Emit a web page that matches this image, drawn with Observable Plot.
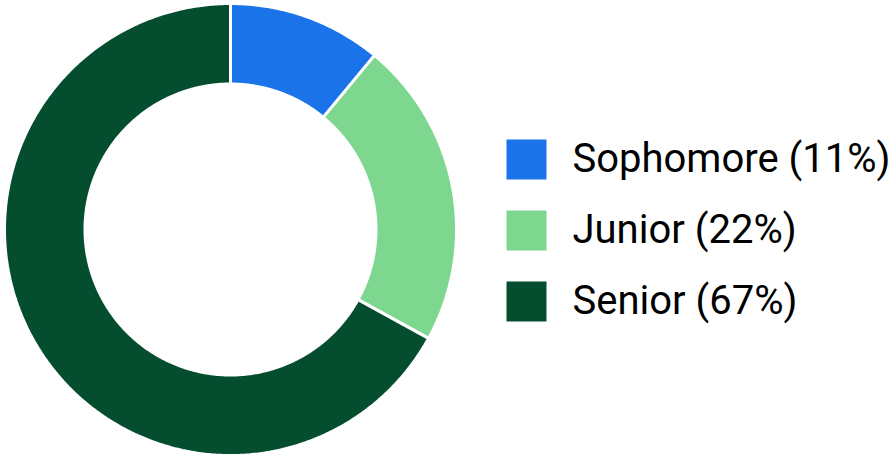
<!DOCTYPE html>
<html>
<head>
<meta charset="utf-8">
<script src="https://cdn.jsdelivr.net/npm/d3@7"></script>
<script src="https://cdn.jsdelivr.net/npm/@observablehq/plot@0.6"></script>
<style>
  html, body { margin: 0; padding: 0; background: #fff; }
  #wrap { display: flex; flex-direction: row; width: 891px; height: 460px; }
  svg { font-family: Roboto, sans-serif; }
</style>
</head>
<body>
<div id="wrap"></div>
<script>
const categories = ["Sophomore", "Junior", "Senior"];
const percents = [11, 22, 67];
const colors = ["#1a73e8", "#7ed78f", "#054d2f"];
const legendLabels = ["Sophomore (11%)", "Junior (22%)", "Senior (67%)"];

const outerR = 1;
const innerR = 147 / 224.5;
const strokeW = 3;
const pxR = 224.5;
const pad = strokeW / 2 / pxR;

// slice angles from the data
const pie = d3.pie().sort(null).value(d => d.value)(
  categories.map((c, i) => ({category: c, value: percents[i]}))
);

// polygon outline for each slice (geometry only)
const pts = [];
pie.forEach(p => {
  const a0 = p.startAngle, a1 = p.endAngle;
  const n = Math.max(4, Math.ceil((a1 - a0) / (Math.PI / 360)));
  const ro = outerR + pad, ri = innerR - pad;
  for (let k = 0; k <= n; k++) {
    const a = a0 + (a1 - a0) * k / n;
    pts.push({category: p.data.category, x: ro * Math.sin(a), y: ro * Math.cos(a)});
  }
  for (let k = n; k >= 0; k--) {
    const a = a0 + (a1 - a0) * k / n;
    pts.push({category: p.data.category, x: ri * Math.sin(a), y: ri * Math.cos(a)});
  }
  pts.push({category: p.data.category, x: ro * Math.sin(a0), y: ro * Math.cos(a0)});
});

const colorScale = {domain: categories, range: colors};

const donut = Plot.plot({
  width: 460,
  height: 460,
  margin: 0,
  x: {domain: [-1, 1], range: [230 - pxR, 230 + pxR], axis: null},
  y: {domain: [-1, 1], range: [229 + pxR, 229 - pxR], axis: null},
  color: colorScale,
  marks: [
    Plot.line(pts, {x: "x", y: "y", z: "category", fill: "category", stroke: "#fff", strokeWidth: strokeW, strokeLinejoin: "miter", curve: "linear"})
  ]
});

const legendData = categories.map((c, i) => ({category: c, label: legendLabels[i]}));
const legend = Plot.plot({
  width: 431,
  height: 460,
  margin: 0,
  x: {domain: [0, 1], range: [66, 400], axis: null},
  y: {type: "point", domain: categories, range: [159, 301], padding: 0, axis: null},
  color: colorScale,
  marks: [
    Plot.dot(legendData, {x: () => 0, y: "category", symbol: "square", r: Math.sqrt(1600 / Math.PI), fill: "category"}),
    Plot.text(legendData, {x: () => 0, y: "category", text: "label", dx: 46, textAnchor: "start", fontSize: 40, fontWeight: 400, fill: "#000", lineAnchor: "middle"})
  ]
});

document.getElementById("wrap").append(donut, legend);
</script>
</body>
</html>
